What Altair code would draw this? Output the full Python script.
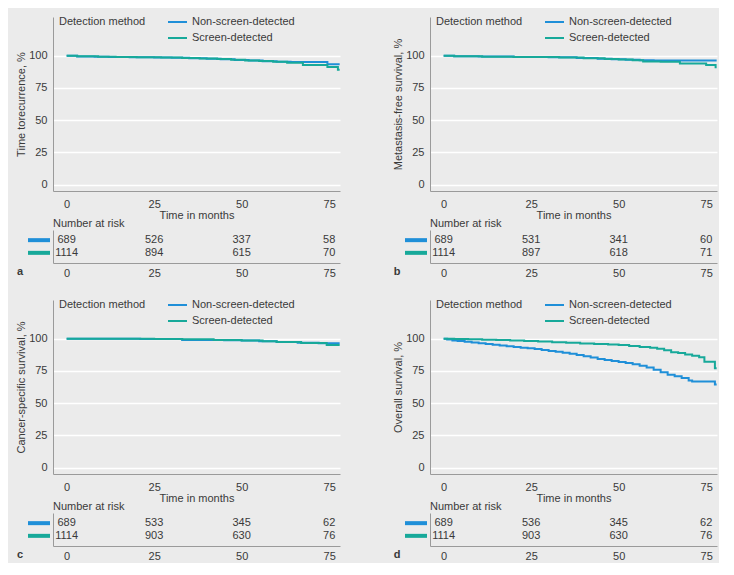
import altair as alt
import pandas as pd

BLUE = "#1f8fd8"
TEAL = "#17a99a"
BG = "#ebebeb"
TXT = "#3a3a3a"
AX = "#9a9a9a"
FONT = "Liberation Sans"

groups = ["Non-screen-detected", "Screen-detected"]
colors = [BLUE, TEAL]
legend_title = "Detection method"

# ---- Kaplan-Meier curves (months, %) ----
a_ns_t = [0, 3, 8, 12, 18, 25, 30, 35, 40, 44, 48, 52, 56, 60, 64, 68, 74.5, 78]
a_ns_v = [100, 99.4, 99.2, 98.9, 98.7, 98.5, 98.3, 98.0, 97.6, 97.2, 96.6, 96.2, 95.7, 95.3, 95.1, 95.0, 93.4, 93.4]
a_s_t = [0, 3, 9, 14, 20, 27, 33, 38, 43, 47, 51, 55, 59, 63, 67.5, 74.5, 77.5, 78]
a_s_v = [100, 99.5, 99.2, 99.0, 98.8, 98.5, 98.2, 97.8, 97.4, 96.8, 96.3, 95.8, 95.2, 94.5, 92.8, 91.2, 89.0, 89.0]

b_ns_t = [0, 3, 10, 20, 30, 38, 44, 48, 52, 56, 60, 78]
b_ns_v = [100, 99.6, 99.3, 99.0, 98.7, 98.2, 97.6, 97.2, 96.8, 96.5, 96.3, 96.3]
b_s_t = [0, 3, 11, 20, 33, 40, 46, 50, 54, 57, 62, 67.5, 75, 77.7, 78]
b_s_v = [100, 99.5, 99.2, 99.0, 98.5, 98.0, 97.5, 97.0, 96.5, 95.4, 95.2, 94.0, 92.7, 91.0, 91.0]

c_ns_t = [0, 21, 33, 45, 50, 55, 60, 66, 72, 78]
c_ns_v = [100, 99.7, 98.9, 98.7, 98.5, 98.0, 97.4, 96.8, 96.5, 96.5]
c_s_t = [0, 10, 25, 33, 42, 50, 56, 60, 67, 74.3, 78]
c_s_v = [100, 99.9, 99.7, 99.5, 99.0, 98.6, 98.0, 97.5, 96.7, 95.0, 95.0]

d_ns_t = [0, 1, 2.5, 4, 6, 8, 10, 12, 14, 16, 18, 20, 22, 24, 26, 28, 30, 32, 34, 36, 38,
          40, 42, 44, 46, 48, 50, 52, 54, 56, 58, 60, 62, 64, 66, 68, 70, 71, 77.5, 78]
d_ns_v = [100, 99.3, 98.6, 98.2, 97.6, 97.0, 96.5, 95.9, 95.3, 94.7, 94.2, 93.6, 93.0, 92.5, 91.9,
          91.2, 90.5, 89.8, 89.0, 88.3, 87.4, 86.3, 85.3, 84.2, 83.4, 82.6, 81.9, 81.2, 80.2, 79.0,
          77.6, 75.8, 74.0, 72.0, 70.8, 69.5, 67.5, 66.8, 64.5, 64.5]
d_s_t = [0, 3, 7, 11, 15, 19, 23, 27, 31, 35, 39, 43, 47, 50, 53, 56, 59, 61, 63, 65, 67, 69,
         71, 73, 74.5, 77.5, 78]
d_s_v = [100, 99.8, 99.5, 99.2, 98.9, 98.6, 98.2, 97.8, 97.3, 96.9, 96.3, 95.9, 95.5, 95.0, 94.3,
         93.6, 92.9, 92.2, 91.0, 89.4, 88.8, 87.8, 86.8, 85.5, 82.0, 77.0, 77.0]

# ---- Number at risk ----
risk_times = [0, 25, 50, 75]
a_risk_ns = [689, 526, 337, 58]
a_risk_s = [1114, 894, 615, 70]
b_risk_ns = [689, 531, 341, 60]
b_risk_s = [1114, 897, 618, 71]
c_risk_ns = [689, 533, 345, 62]
c_risk_s = [1114, 903, 630, 76]
d_risk_ns = [689, 536, 345, 62]
d_risk_s = [1114, 903, 630, 76]

y_titles = ["Time torecurrence, %", "Metastasis-free survival, %",
            "Cancer-specific survival, %", "Overall survival, %"]
letters = ["a", "b", "c", "d"]

curves = [
    (a_ns_t, a_ns_v, a_s_t, a_s_v),
    (b_ns_t, b_ns_v, b_s_t, b_s_v),
    (c_ns_t, c_ns_v, c_s_t, c_s_v),
    (d_ns_t, d_ns_v, d_s_t, d_s_v),
]
risks = [(a_risk_ns, a_risk_s), (b_risk_ns, b_risk_s), (c_risk_ns, c_risk_s), (d_risk_ns, d_risk_s)]

W = 287
H = 174
RH = 33
XDOM = [-3.9, 78.1]
color_scale = alt.Scale(domain=groups, range=colors)


def panel(i):
    ns_t, ns_v, s_t, s_v = curves[i]
    df = pd.concat([
        pd.DataFrame({"t": ns_t, "v": ns_v, "g": groups[0]}),
        pd.DataFrame({"t": s_t, "v": s_v, "g": groups[1]}),
    ])
    base = alt.Chart(df).mark_line(interpolate="step-after", strokeWidth=2, clip=True).encode(
        x=alt.X("t:Q", scale=alt.Scale(domain=XDOM, nice=False, zero=False),
                axis=alt.Axis(values=risk_times, grid=False, ticks=False, tickSize=0,
                              labelPadding=7, title="Time in months", titlePadding=0,
                              domainColor=AX, labelFlush=False)),
        y=alt.Y("v:Q", scale=alt.Scale(domain=[-5, 130], nice=False, zero=False),
                axis=alt.Axis(values=[0, 25, 50, 75, 100], grid=True, gridColor="white",
                              gridWidth=1.6, ticks=False, tickSize=0, labelPadding=6,
                              title=y_titles[i], titlePadding=2, domainColor=AX)),
        color=alt.Color("g:N", scale=color_scale,
                        legend=alt.Legend(title=None, orient="none",
                                          legendX=114, legendY=-5.5,
                                          direction="vertical", symbolType="stroke",
                                          symbolSize=361, symbolStrokeWidth=2,
                                          labelOffset=4, rowPadding=-8, padding=0)),
    )
    ttl = alt.Chart(pd.DataFrame({"l": [legend_title]})).mark_text(
        fontSize=11, color=TXT, font=FONT, align="left", baseline="middle"
    ).encode(x=alt.value(6), y=alt.value(5), text="l:N")
    km = alt.layer(
        base.transform_filter(alt.datum.g == groups[0]),
        base.transform_filter(alt.datum.g == groups[1]),
        ttl,
    ).properties(width=W, height=H)

    r_ns, r_s = risks[i]
    rdf = pd.concat([
        pd.DataFrame({"t": risk_times, "n": r_ns, "g": groups[0]}),
        pd.DataFrame({"t": risk_times, "n": r_s, "g": groups[1]}),
    ])
    ysc = alt.Scale(domain=groups, padding=0.6)
    txt = alt.Chart(rdf).mark_text(fontSize=11, color=TXT, font=FONT).encode(
        x=alt.X("t:Q", scale=alt.Scale(domain=XDOM, nice=False, zero=False),
                axis=alt.Axis(values=risk_times, grid=False, ticks=False, tickSize=0,
                              labelPadding=4, title=None, domainColor=AX, labelFlush=False)),
        y=alt.Y("g:N", scale=ysc,
                axis=alt.Axis(labels=False, ticks=False, title=None, grid=False, domainColor=AX)),
        text="n:Q",
    )
    bars = alt.Chart(pd.DataFrame({"g": groups})).mark_rule(strokeWidth=4).encode(
        x=alt.value(-25), x2=alt.value(-3),
        y=alt.Y("g:N", scale=ysc),
        color=alt.Color("g:N", scale=color_scale, legend=None),
    )
    let = alt.Chart(pd.DataFrame({"l": [letters[i]]})).mark_text(
        fontSize=11, fontWeight="bold", color=TXT, font=FONT, baseline="middle"
    ).encode(x=alt.value(-33), y=alt.value(42), text="l:N")
    risk = alt.layer(txt, bars, let).properties(
        width=W, height=RH,
        title=alt.TitleParams("Number at risk", anchor="start", frame="group", fontSize=11,
                              fontWeight="normal", offset=1, color=TXT, font=FONT),
    )
    return alt.vconcat(km, risk, spacing=-2).resolve_scale(color="independent")


row1 = alt.hconcat(panel(0), panel(1), spacing=52).resolve_scale(color="independent")
row2 = alt.hconcat(panel(2), panel(3), spacing=52).resolve_scale(color="independent")
chart = alt.vconcat(row1, row2, spacing=16).resolve_scale(color="independent").properties(
    padding={"left": 7, "top": 3, "right": 2, "bottom": 2},
    background=BG,
).configure_view(stroke=None, fill=BG).configure_axis(
    labelFont=FONT, titleFont=FONT, labelFontSize=11, titleFontSize=11,
    labelColor=TXT, titleColor=TXT, titleFontWeight="normal",
).configure_legend(
    labelFont=FONT, titleFont=FONT, labelFontSize=11, titleFontSize=11,
    labelColor=TXT, titleColor=TXT,
)

chart.save("out.html", embed_options={"renderer": "svg", "actions": False})
